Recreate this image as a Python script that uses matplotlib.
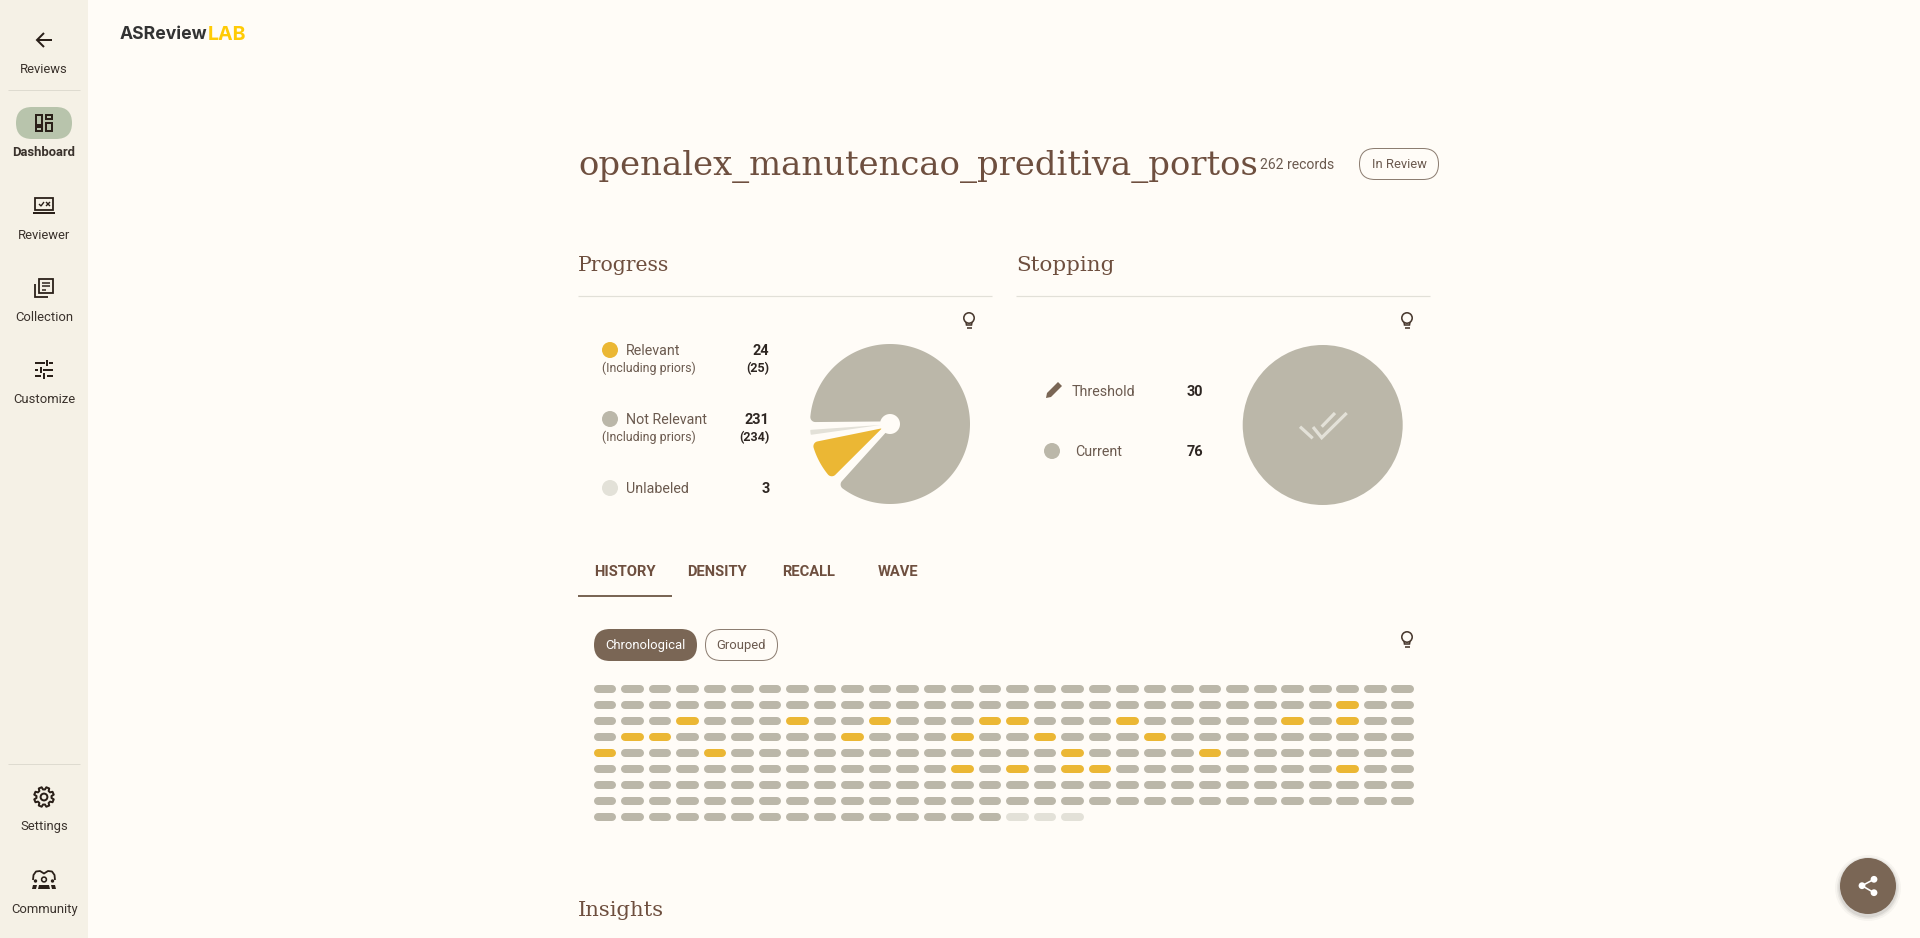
import numpy as np
import matplotlib
matplotlib.use("Agg")
import matplotlib.pyplot as plt
from matplotlib.patches import Circle, FancyBboxPatch, Polygon, Rectangle
from matplotlib.collections import LineCollection

# ---------- data ----------
project_title = "openalex_manutencao_preditiva_portos"
record_label = "262 records"
status_label = "In Review"
nav_top = ["Reviews", "Dashboard", "Reviewer", "Collection", "Customize"]
nav_bottom = ["Settings", "Community"]
tabs = ["HISTORY", "DENSITY", "RECALL", "WAVE"]
chips = ["Chronological", "Grouped"]

progress_labels = ["Relevant", "Not Relevant", "Unlabeled"]
progress_counts = [24, 231, 3]
progress_with_priors = [25, 234, 3]
stopping_threshold = 30
stopping_current = 76

# one letter per record: n = not relevant, r = relevant, u = unlabeled
history_rows = [
    "nnnnnnnnnnnnnnnnnnnnnnnnnnnnnn",
    "nnnnnnnnnnnnnnnnnnnnnnnnnnnrnn",
    "nnnrnnnrnnrnnnrrnnnrnnnnnrnrnn",
    "nrrnnnnnnrnnnrnnrnnnrnnnnnnnnn",
    "rnnnrnnnnnnnnnnnnrnnnnrnnnnnnn",
    "nnnnnnnnnnnnnrnrnrrnnnnnnnnrnn",
    "nnnnnnnnnnnnnnnnnnnnnnnnnnnnnn",
    "nnnnnnnnnnnnnnnnnnnnnnnnnnnnnn",
    "nnnnnnnnnnnnnnnuuu",
]

# ---------- style ----------
BG = "#FFFCF7"
SIDE = "#F5F1E6"
YEL = "#EBB734"
GRY = "#BBB7A9"
LGT = "#E3E1D8"
BRN = "#7A6655"
HEAD = "#6E4F3F"
BODY = "#6B5A4F"
DARK = "#2E2622"
ICON = "#2A2019"
RULE = "#E2E0D8"
SANS = "Roboto"
SERIF = "DejaVu Serif"
W, H = 1920, 938
status_colors = {"n": GRY, "r": YEL, "u": LGT}
slice_colors = [YEL, GRY, LGT]


def pt(px):
    return px * 0.72


fig = plt.figure(figsize=(W / 100, H / 100), dpi=100, facecolor=BG)
ax = fig.add_axes([0, 0, 1, 1], zorder=5)
ax.set_xlim(0, W)
ax.set_ylim(H, 0)
ax.axis("off")


def T(x, y, s, px=14, c=BODY, ha="left", w="normal", fam=SANS, **kw):
    return ax.text(x, y + 1, s, fontsize=pt(px), color=c, ha=ha, va="center",
                   fontweight=w, family=fam, **kw)


def L(xs, ys, c=ICON, lw=2, cap="butt", join="miter"):
    ax.plot(xs, ys, color=c, lw=pt(lw), solid_capstyle=cap, solid_joinstyle=join)


def R(x0, y0, x1, y1, lw=2, c=ICON):
    ax.add_patch(Rectangle((x0, y0), x1 - x0, y1 - y0, fc="none", ec=c, lw=pt(lw)))


def pill(x0, y0, x1, y1, fc, ec="none", lw=1):
    r = (y1 - y0) / 2
    ax.add_patch(FancyBboxPatch((x0 + r, y0 + r), x1 - x0 - 2 * r, 0,
                                boxstyle=f"round,pad={r},rounding_size={r}",
                                fc=fc, ec=ec, lw=pt(lw)))


def bulb(cx, cy):
    ax.add_patch(Circle((cx, cy - 2), 5.2, fc="none", ec="#4A3A30", lw=pt(1.6)))
    L([cx - 3, cx - 2.5, cx + 2.5, cx + 3], [cy + 2, cy + 5, cy + 5, cy + 2], c="#4A3A30", lw=1.6)
    L([cx - 2.5, cx + 2.5], [cy + 8, cy + 8], c="#4A3A30", lw=1.6)


# ---------- sidebar ----------
ax.add_patch(Rectangle((0, 0), 88, H, fc=SIDE, ec="none"))
L([8, 80], [90.5, 90.5], c="#DEDBD0", lw=1)
L([8, 80], [764.5, 764.5], c="#DEDBD0", lw=1)
pill(16, 107, 72, 139, "#B8C4AC")
for label, y, wt in zip(nav_top, [68.5, 151.5, 234.5, 316.5, 398.5],
                        ["normal", "bold", "normal", "normal", "normal"]):
    T(44, y, label, px=13, c="#3A322C", ha="center", w=wt)
for label, y in zip(nav_bottom, [825.5, 908.5]):
    T(44.5 if label == "Community" else 44, y, label, px=13, c="#3A322C", ha="center")

# back arrow
L([37, 52], [40, 40])
L([44, 37, 44], [33, 40, 47])
# dashboard
R(36, 115, 42, 125); R(46, 115, 52, 119); R(36, 127, 42, 131); R(46, 123, 52, 131)
# reviewer
R(35, 198, 53, 210, lw=1.8)
L([33, 55], [213.5, 213.5], lw=2)
L([39, 41, 44], [204, 206, 202], lw=1.4)
L([46, 50], [202, 206], lw=1.4); L([46, 50], [206, 202], lw=1.4)
# collection
R(38.5, 279, 53, 293, lw=1.8)
L([34.5, 34.5, 48], [284, 297, 297], lw=1.8)
L([41.5, 50], [283, 283], lw=1.5); L([41.5, 50], [286.5, 286.5], lw=1.5); L([41.5, 46], [290, 290], lw=1.5)
# customize
L([35, 45], [363, 363]); L([49, 53], [363, 363]); L([47, 47], [360, 366])
L([35, 38], [370, 370]); L([43, 53], [370, 370]); L([41, 41], [367, 373])
L([35, 41], [376, 376]); L([47, 53], [376, 376]); L([44, 44], [373, 379])
# settings gear
gear = []
for a in np.arange(0, 360, 45) + 22.5:
    for rr, da in [(7.6, -15), (10, -9), (10, 9), (7.6, 15)]:
        t = np.radians(a + da)
        gear.append((44 + rr * np.cos(t), 797 + rr * np.sin(t)))
ax.add_patch(Polygon(gear, closed=True, fc="none", ec=ICON, lw=pt(2), joinstyle="round"))
ax.add_patch(Circle((44, 797), 3.4, fc="none", ec=ICON, lw=pt(2)))
# community
L([33, 33.5, 36, 40, 44, 48, 52, 54.5, 55], [880, 875, 871.5, 871, 873.5, 871, 871.5, 875, 880], lw=1.8, join="round")
ax.add_patch(Circle((44, 879.5), 2.4, fc="none", ec=ICON, lw=pt(1.6)))
ax.add_patch(Circle((35.5, 881), 1.7, fc=ICON, ec="none"))
ax.add_patch(Circle((52.5, 881), 1.7, fc=ICON, ec="none"))
ax.add_patch(Polygon([(38, 889), (39, 885), (49, 885), (50, 889)], fc=ICON, ec="none"))
ax.add_patch(Polygon([(32, 889), (33, 885), (37, 885), (36, 889)], fc=ICON, ec="none"))
ax.add_patch(Polygon([(52, 889), (51, 885), (55, 885), (56, 889)], fc=ICON, ec="none"))

# logo
T(120, 33.5, "ASReview", px=17.6, c="#333333", w="bold", fam="Inter")
T(207.5, 33.5, "LAB", px=19.6, c="#FFCB05", w="bold", fam="Inter")

# ---------- header ----------
T(578, 165.5, project_title, px=33.9, c=HEAD, fam=SERIF)
T(1260, 164, record_label, px=14)
pill(1359.5, 148.5, 1438.5, 179.5, BG, ec="#8C7D71", lw=1)
T(1399, 163, status_label, px=13, ha="center")

T(578, 264.5, "Progress", px=20.4, c=HEAD, fam=SERIF)
T(1016, 264.5, "Stopping", px=21.5, c=HEAD, fam=SERIF)
L([578, 992], [296.5, 296.5], c=RULE, lw=1.2)
L([1016, 1430], [296.5, 296.5], c=RULE, lw=1.2)
bulb(969, 320)
bulb(1407, 320)
bulb(1407, 639)

# ---------- progress legend ----------
for i, (name, y) in enumerate(zip(progress_labels, [350, 419, 488])):
    ax.add_patch(Circle((610, y), 8, fc=slice_colors[i], ec="none"))
    T(626, y, name, px=14.3)
    T(769.5, y, str(progress_counts[i]), px=14.5, c=DARK, ha="right", w="bold")
    if i < 2:
        T(602, y + 17, "(Including priors)", px=12.4)
        T(769.5, y + 18, f"({progress_with_priors[i]})", px=12.5, c=DARK, ha="right", w="bold")

# ---------- stopping legend ----------
ax.add_patch(Polygon([(1046, 398), (1047, 393), (1058, 382), (1062, 386), (1051, 397)], fc=BRN, ec="none"))
T(1072, 390.5, "Threshold", px=14.3)
T(1203.5, 390.5, str(stopping_threshold), px=14.5, c=DARK, ha="right", w="bold")
ax.add_patch(Circle((1052, 451), 8, fc=GRY, ec="none"))
T(1075, 450.5, "Current", px=14.3)
T(1203.5, 450.5, str(stopping_current), px=14.5, c=DARK, ha="right", w="bold")

# ---------- tabs and chips ----------
for label, x in zip(tabs, [624.5, 717, 808.5, 898]):
    T(x, 571.5, label, px=14.8, c=HEAD, ha="center", w="bold")
L([578, 672], [596, 596], c=BRN, lw=2)
pill(594, 629, 697, 661, BRN)
pill(705.5, 629.5, 777.5, 660.5, BG, ec="#8C7D71", lw=1)
T(645.5, 644, chips[0], px=13, c="#FFFFFF", ha="center")
T(741, 644, chips[1], px=13, ha="center")

T(578, 909, "Insights", px=21.2, c=HEAD, fam=SERIF)

# ---------- share button ----------
for rr, al in [(33, .03), (31, .05), (29.5, .07)]:
    ax.add_patch(Circle((1868, 888), rr, fc="#000000", alpha=al, ec="none"))
ax.add_patch(Circle((1868, 886), 28, fc=BRN, ec="none"))
L([1874, 1862, 1874], [879.3, 885.7, 892.7], c="#FFFFFF", lw=1.6)
for x, y in [(1874, 879.3), (1862, 885.7), (1874, 892.7)]:
    ax.add_patch(Circle((x, y), 3.4, fc="#FFFFFF", ec="none"))


# ---------- history grid ----------
def pixel_axes(x0, y0, x1, y1):
    a = fig.add_axes([x0 / W, 1 - y1 / H, (x1 - x0) / W, (y1 - y0) / H], zorder=3)
    a.patch.set_alpha(0)
    a.axis("off")
    return a


grid_ax = pixel_axes(591.25, 681, 1416.5, 825)
grid_ax.set_xlim(-0.5, 29.5)
grid_ax.set_ylim(8.5, -0.5)
half = 7.3 / 27.5
for key, color in status_colors.items():
    segs = [[(c - half, r), (c + half, r)]
            for r, row in enumerate(history_rows)
            for c, s in enumerate(row) if s == key]
    grid_ax.add_collection(LineCollection(segs, colors=color, linewidths=pt(8), capstyle="round"))


# ---------- pies ----------
def sector(a1, a2, ro, ri, off, cr):
    """Outline of a ring sector with parallel-offset sides and rounded outer corners."""
    Ro = ro - cr
    k = off + cr
    th1 = a1 + np.degrees(np.arcsin(k / Ro))
    th2 = a2 - np.degrees(np.arcsin(k / Ro))
    pts = []

    def arc(cx, cy, r, d0, d1, n=14):
        for d in np.linspace(d0, d1, n):
            t = np.radians(d)
            pts.append((cx + r * np.cos(t), cy + r * np.sin(t)))

    t1, t2 = np.radians(th1), np.radians(th2)
    arc(Ro * np.cos(t1), Ro * np.sin(t1), cr, a1 - 90, th1)
    arc(0, 0, ro, th1, th2, n=200)
    arc(Ro * np.cos(t2), Ro * np.sin(t2), cr, th2, a2 + 90)
    half_span = (a2 - a1) / 2
    mid = (a1 + a2) / 2
    if half_span < 90 and off / np.sin(np.radians(half_span)) >= ri:
        apex = off / np.sin(np.radians(half_span))
        t = np.radians(mid)
        pts.append((apex * np.cos(t), apex * np.sin(t)))
    else:
        d = np.degrees(np.arcsin(off / ri))
        arc(0, 0, ri, a2 - d, a1 + d, n=60)
    return pts


pie_ax = pixel_axes(800, 334, 980, 514)
pie_ax.set_xlim(-90, 90)
pie_ax.set_ylim(-90, 90)
gaps = [3.0, 3.5, 3.5]
scale = (360 - sum(gaps)) / sum(progress_with_priors)
order = [0, 1, 2]
angle = 191.5
for i, gap in zip(order, gaps):
    span = progress_with_priors[i] * scale
    off = 0.3 if i == 2 else 2.6
    cr = 0.8 if i == 2 else 5
    pie_ax.add_patch(Polygon(sector(angle, angle + span, 80, 10, off, cr),
                             closed=True, fc=slice_colors[i], ec="none"))
    angle += span + gap

stop_ax = pixel_axes(1232.7, 335, 1412.7, 515)
stop_ax.set_xlim(-90, 90)
stop_ax.set_ylim(-90, 90)
stop_ax.pie([stopping_current], colors=[GRY], radius=80, center=(0, 0), frame=True)
stop_ax.set_xlim(-90, 90)
stop_ax.set_ylim(-90, 90)
stop_ax.axis("off")
L([1300, 1312.7], [426.7, 438.3], c=LGT, lw=3.2)
L([1313, 1321.7, 1346.7], [427, 437.7, 413], c=LGT, lw=3.2)
L([1321.7, 1335], [426.7, 413], c=LGT, lw=3.2)

fig.savefig("out.png", dpi=100, facecolor=BG)
